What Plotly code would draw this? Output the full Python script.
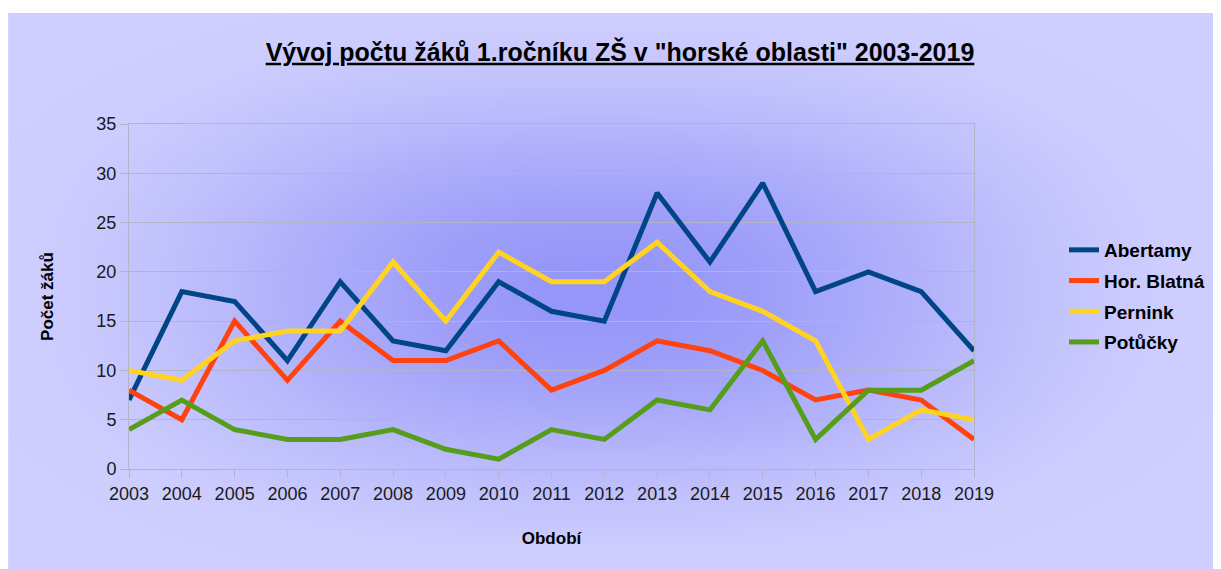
import base64
import struct
import zlib

import numpy as np
import plotly.graph_objects as go

# ---------------- data ----------------
years = list(range(2003, 2020))
abertamy = [7, 18, 17, 11, 19, 13, 12, 19, 16, 15, 28, 21, 29, 18, 20, 18, 12]
hor_blatna = [8, 5, 15, 9, 15, 11, 11, 13, 8, 10, 13, 12, 10, 7, 8, 7, 3]
pernink = [10, 9, 13, 14, 14, 21, 15, 22, 19, 19, 23, 18, 16, 13, 3, 6, 5]
potucky = [4, 7, 4, 3, 3, 4, 2, 1, 4, 3, 7, 6, 13, 3, 8, 8, 11]
series_names = ["Abertamy", "Hor. Blatná", "Pernink", "Potůčky"]
y_ticks = [0, 5, 10, 15, 20, 25, 30, 35]

colors = ["#004586", "#ff420e", "#ffd320", "#579d1c"]

# page has an 8px body margin; work in reference-screen pixels
OFF = 8
SW, SH = 1221, 569
W, H = SW - OFF, SH - OFF
L, R, T, B = 129, 975, 124, 469  # plot area in screen px
pw, ph = R - L, B - T


def px2paper_x(px):
    return (px - L) / pw


def px2paper_y(py):
    return (B - py) / ph


def gradient_png():
    w, h = 304, 139
    bx0, by0, bx1, by1 = 8, 13, 1221, 569
    xs = np.linspace(bx0, bx1, w)
    ys = np.linspace(by0, by1, h)
    X, Y = np.meshgrid(xs, ys)
    cx, cy, rx, ry, p = 600, 290, 640, 300, 2.4
    d = ((np.abs(X - cx) / rx) ** p + (np.abs(Y - cy) / ry) ** p) ** (1 / p)
    t = np.clip(d, 0, 1)
    t = t * t * (3 - 2 * t)
    c0 = np.array([150, 150, 249], float)
    c1 = np.array([207, 207, 255], float)
    img = c0[None, None, :] + (c1 - c0)[None, None, :] * t[..., None]
    img = np.clip(img, 0, 255).astype(np.uint8)
    raw = b"".join(b"\x00" + img[r].tobytes() for r in range(h))

    def chunk(tag, data):
        c = struct.pack(">I", len(data)) + tag + data
        return c + struct.pack(">I", zlib.crc32(tag + data) & 0xFFFFFFFF)

    png = b"\x89PNG\r\n\x1a\n"
    png += chunk(b"IHDR", struct.pack(">IIBBBBB", w, h, 8, 2, 0, 0, 0))
    png += chunk(b"IDAT", zlib.compress(raw, 9))
    png += chunk(b"IEND", b"")
    return "data:image/png;base64," + base64.b64encode(png).decode()


fig = go.Figure()
for name, vals, col in zip(series_names, [abertamy, hor_blatna, pernink, potucky], colors):
    fig.add_trace(go.Scatter(
        x=years, y=vals, name=name, mode="lines",
        line=dict(color=col, width=5),
        legendgroup=name,
    ))

grid = "#b4b4c8"
fig.update_layout(
    width=W, height=H,
    margin=dict(l=L - OFF, r=SW - R, t=T - OFF, b=SH - B),
    paper_bgcolor="white",
    plot_bgcolor="rgba(0,0,0,0)",
    font=dict(family="Liberation Sans, Arial, sans-serif", color="#000000"),
    title=dict(
        text="<b>Vývoj počtu žáků 1.ročníku ZŠ v \"horské oblasti\" 2003-2019</b>",
        x=(620 - OFF) / W, xanchor="center", y=1 - (52 - OFF) / H, yanchor="middle",
        font=dict(size=25, color="#000000", lineposition="under"),
    ),
    xaxis=dict(
        range=[2003, 2019], tickmode="array", tickvals=years,
        ticktext=[str(y) for y in years],
        showgrid=False, zeroline=False,
        showline=True, linecolor=grid, linewidth=1, mirror=True,
        ticks="outside", ticklen=8, tickcolor=grid,
        tickfont=dict(size=18, color="#1a1a1a"),
        title=dict(text="<b>Období</b>", font=dict(size=17), standoff=29),
    ),
    yaxis=dict(
        range=[0, 35], tickmode="array", tickvals=y_ticks,
        showgrid=True, gridcolor=grid, gridwidth=1, zeroline=False,
        showline=True, linecolor=grid, linewidth=1, mirror=True,
        ticks="outside", ticklen=8, tickcolor=grid,
        tickfont=dict(size=18, color="#1a1a1a"),
        title=dict(text="<b>Počet žáků</b>", font=dict(size=17), standoff=38),
    ),
    legend=dict(
        x=px2paper_x(1064), xanchor="left",
        y=px2paper_y(296), yanchor="middle",
        bgcolor="rgba(0,0,0,0)",
        font=dict(size=19, weight="bold"),
        tracegroupgap=3,
    ),
    showlegend=True,
    images=[dict(
        source=gradient_png(), xref="paper", yref="paper",
        x=px2paper_x(8), y=px2paper_y(13),
        sizex=(1221 - 8) / pw, sizey=(569 - 13) / ph,
        sizing="stretch", xanchor="left", yanchor="top", layer="below",
    )],
)

fig.write_html("out.html")
